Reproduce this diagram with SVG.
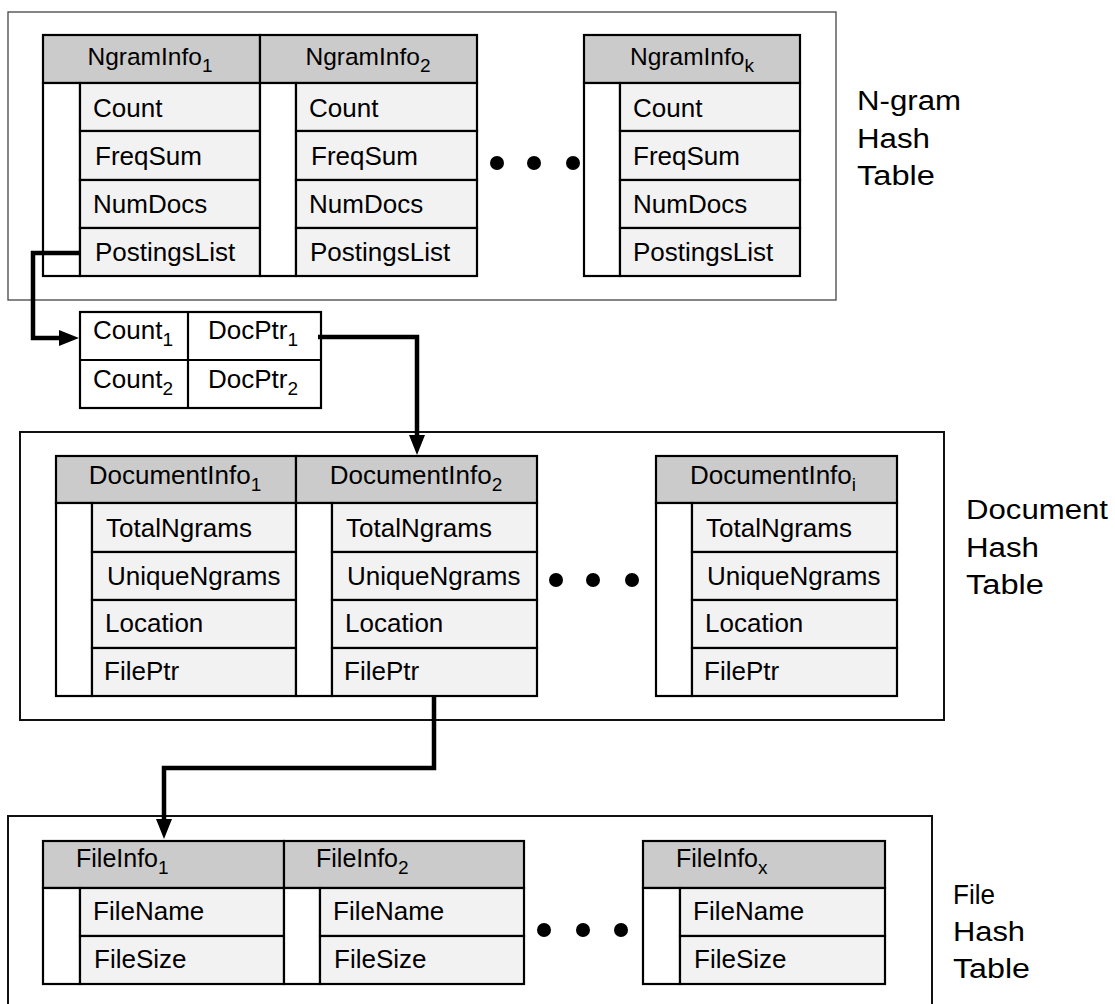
<svg xmlns="http://www.w3.org/2000/svg" width="1115" height="1004" viewBox="0 0 1115 1004">
<style>
  text { font-family: "Liberation Sans", Arial, sans-serif; fill: #000; }
  .cell { font-size: 26px; }
  .hdrN { font-size: 24.5px; }
  .hdrD { font-size: 26px; }
  .hdrF { font-size: 25px; }
  .lbl { font-size: 27px; }
  .sub { font-size: 19px; }
  .outerThin { fill: none; stroke: #444; stroke-width: 1.3; }
  .outer { fill: none; stroke: #111; stroke-width: 2; }
  .hf { fill: #cbcbcb; stroke: #000; stroke-width: 2.2; }
  .cf { fill: #f2f2f2; stroke: #000; stroke-width: 2.2; }
  .wc { fill: #fff; stroke: #000; stroke-width: 2.2; }
  .conn { fill: none; stroke: #000; stroke-width: 4.5; }
  .dot { fill: #000; }
</style>
<defs>
  <marker id="ah" viewBox="0 0 20 16" refX="3" refY="8" markerWidth="20" markerHeight="16" markerUnits="userSpaceOnUse" orient="auto">
    <path d="M0,0 L20,8 L0,16 Z" fill="#000"/>
  </marker>
</defs>

<!-- Outer boxes -->
<rect id="ngramHashTable" class="outerThin" x="8" y="12" width="828" height="288"/>
<rect id="documentHashTable" class="outer" x="20" y="432" width="924" height="288"/>
<rect id="fileHashTable" class="outer" x="8" y="816" width="924" height="200"/>

<!-- N-gram tables -->
<g id="ngram1">
  <rect class="hf" x="43" y="35" width="217" height="48"/>
  <rect class="wc" x="43" y="83" width="37" height="193"/>
  <rect class="cf" x="80" y="83" width="180" height="48"/>
  <rect class="cf" x="80" y="131" width="180" height="49"/>
  <rect class="cf" x="80" y="180" width="180" height="48"/>
  <rect class="cf" x="80" y="228" width="180" height="48"/>
  <text class="hdrN" x="150" y="65" text-anchor="middle">NgramInfo<tspan class="sub" dy="7">1</tspan></text>
  <text class="cell" x="93" y="117">Count</text>
  <text class="cell" x="95" y="165">FreqSum</text>
  <text class="cell" x="93" y="213">NumDocs</text>
  <text class="cell" x="95" y="261">PostingsList</text>
</g>
<g id="ngram2">
  <rect class="hf" x="260" y="35" width="217" height="48"/>
  <rect class="wc" x="260" y="83" width="36" height="193"/>
  <rect class="cf" x="296" y="83" width="181" height="48"/>
  <rect class="cf" x="296" y="131" width="181" height="49"/>
  <rect class="cf" x="296" y="180" width="181" height="48"/>
  <rect class="cf" x="296" y="228" width="181" height="48"/>
  <text class="hdrN" x="368" y="65" text-anchor="middle">NgramInfo<tspan class="sub" dy="7">2</tspan></text>
  <text class="cell" x="309" y="117">Count</text>
  <text class="cell" x="311" y="165">FreqSum</text>
  <text class="cell" x="309" y="213">NumDocs</text>
  <text class="cell" x="310" y="261">PostingsList</text>
</g>
<g id="ngramDots">
  <circle class="dot" cx="497" cy="163" r="7"/>
  <circle class="dot" cx="534" cy="163" r="7"/>
  <circle class="dot" cx="573" cy="163" r="7"/>
</g>
<g id="ngramK">
  <rect class="hf" x="584" y="35" width="216" height="48"/>
  <rect class="wc" x="584" y="83" width="36" height="193"/>
  <rect class="cf" x="620" y="83" width="180" height="48"/>
  <rect class="cf" x="620" y="131" width="180" height="49"/>
  <rect class="cf" x="620" y="180" width="180" height="48"/>
  <rect class="cf" x="620" y="228" width="180" height="48"/>
  <text class="hdrN" x="692" y="65" text-anchor="middle">NgramInfo<tspan class="sub" dy="7">k</tspan></text>
  <text class="cell" x="633" y="117">Count</text>
  <text class="cell" x="633" y="165">FreqSum</text>
  <text class="cell" x="633" y="213">NumDocs</text>
  <text class="cell" x="633" y="261">PostingsList</text>
</g>
<g id="ngramLabel">
  <text class="lbl" x="857" y="110" textLength="104" lengthAdjust="spacingAndGlyphs">N-gram</text>
  <text class="lbl" x="857" y="148" textLength="73" lengthAdjust="spacingAndGlyphs">Hash</text>
  <text class="lbl" x="857" y="185" textLength="78" lengthAdjust="spacingAndGlyphs">Table</text>
</g>

<!-- Postings list -->
<g id="postings">
  <rect class="wc" x="80" y="312" width="241" height="96"/>
  <line x1="80" y1="360" x2="321" y2="360" stroke="#000" stroke-width="2.2"/>
  <line x1="188" y1="312" x2="188" y2="408" stroke="#000" stroke-width="2.2"/>
  <text class="cell" x="93" y="339">Count<tspan class="sub" dy="7">1</tspan></text>
  <text class="cell" x="208" y="339">DocPtr<tspan class="sub" dy="7">1</tspan></text>
  <text class="cell" x="93" y="388">Count<tspan class="sub" dy="7">2</tspan></text>
  <text class="cell" x="208" y="388">DocPtr<tspan class="sub" dy="7">2</tspan></text>
</g>

<!-- Document tables -->
<g id="doc1">
  <rect class="hf" x="56" y="456" width="240" height="47"/>
  <rect class="wc" x="56" y="503" width="36" height="193"/>
  <rect class="cf" x="92" y="503" width="204" height="49"/>
  <rect class="cf" x="92" y="552" width="204" height="48"/>
  <rect class="cf" x="92" y="600" width="204" height="48"/>
  <rect class="cf" x="92" y="648" width="204" height="48"/>
  <text class="hdrD" x="175" y="484" text-anchor="middle">DocumentInfo<tspan class="sub" dy="7">1</tspan></text>
  <text class="cell" x="106" y="537">TotalNgrams</text>
  <text class="cell" x="107" y="585">UniqueNgrams</text>
  <text class="cell" x="105" y="632">Location</text>
  <text class="cell" x="104" y="680">FilePtr</text>
</g>
<g id="doc2">
  <rect class="hf" x="296" y="456" width="241" height="47"/>
  <rect class="wc" x="296" y="503" width="36" height="193"/>
  <rect class="cf" x="332" y="503" width="205" height="49"/>
  <rect class="cf" x="332" y="552" width="205" height="48"/>
  <rect class="cf" x="332" y="600" width="205" height="48"/>
  <rect class="cf" x="332" y="648" width="205" height="48"/>
  <text class="hdrD" x="416" y="484" text-anchor="middle">DocumentInfo<tspan class="sub" dy="7">2</tspan></text>
  <text class="cell" x="346" y="537">TotalNgrams</text>
  <text class="cell" x="347" y="585">UniqueNgrams</text>
  <text class="cell" x="345" y="632">Location</text>
  <text class="cell" x="344" y="680">FilePtr</text>
</g>
<g id="docDots">
  <circle class="dot" cx="556" cy="580" r="7"/>
  <circle class="dot" cx="593" cy="580" r="7"/>
  <circle class="dot" cx="632" cy="580" r="7"/>
</g>
<g id="docI">
  <rect class="hf" x="656" y="456" width="241" height="47"/>
  <rect class="wc" x="656" y="503" width="36" height="193"/>
  <rect class="cf" x="692" y="503" width="205" height="49"/>
  <rect class="cf" x="692" y="552" width="205" height="48"/>
  <rect class="cf" x="692" y="600" width="205" height="48"/>
  <rect class="cf" x="692" y="648" width="205" height="48"/>
  <text class="hdrD" x="773" y="484" text-anchor="middle">DocumentInfo<tspan class="sub" dy="7">i</tspan></text>
  <text class="cell" x="706" y="537">TotalNgrams</text>
  <text class="cell" x="707" y="585">UniqueNgrams</text>
  <text class="cell" x="705" y="632">Location</text>
  <text class="cell" x="704" y="680">FilePtr</text>
</g>
<g id="docLabel">
  <text class="lbl" x="966" y="519" textLength="142" lengthAdjust="spacingAndGlyphs">Document</text>
  <text class="lbl" x="966" y="557" textLength="73" lengthAdjust="spacingAndGlyphs">Hash</text>
  <text class="lbl" x="966" y="594" textLength="78" lengthAdjust="spacingAndGlyphs">Table</text>
</g>

<!-- File tables -->
<g id="file1">
  <rect class="hf" x="43" y="841" width="241" height="47"/>
  <rect class="wc" x="43" y="888" width="37" height="96"/>
  <rect class="cf" x="80" y="888" width="204" height="48"/>
  <rect class="cf" x="80" y="936" width="204" height="48"/>
  <text class="hdrF" x="76" y="867">FileInfo<tspan class="sub" dy="7">1</tspan></text>
  <text class="cell" x="93" y="920">FileName</text>
  <text class="cell" x="94" y="968">FileSize</text>
</g>
<g id="file2">
  <rect class="hf" x="284" y="841" width="240" height="47"/>
  <rect class="wc" x="284" y="888" width="36" height="96"/>
  <rect class="cf" x="320" y="888" width="204" height="48"/>
  <rect class="cf" x="320" y="936" width="204" height="48"/>
  <text class="hdrF" x="316" y="867">FileInfo<tspan class="sub" dy="7">2</tspan></text>
  <text class="cell" x="333" y="920">FileName</text>
  <text class="cell" x="334" y="968">FileSize</text>
</g>
<g id="fileDots">
  <circle class="dot" cx="544" cy="930" r="7"/>
  <circle class="dot" cx="583" cy="930" r="7"/>
  <circle class="dot" cx="621" cy="930" r="7"/>
</g>
<g id="fileX">
  <rect class="hf" x="643" y="841" width="242" height="47"/>
  <rect class="wc" x="643" y="888" width="37" height="96"/>
  <rect class="cf" x="680" y="888" width="205" height="48"/>
  <rect class="cf" x="680" y="936" width="205" height="48"/>
  <text class="hdrF" x="676" y="867">FileInfo<tspan class="sub" dy="7">x</tspan></text>
  <text class="cell" x="693" y="920">FileName</text>
  <text class="cell" x="694" y="968">FileSize</text>
</g>
<g id="fileLabel">
  <text class="lbl" x="953" y="904" textLength="42" lengthAdjust="spacingAndGlyphs">File</text>
  <text class="lbl" x="953" y="941" textLength="72" lengthAdjust="spacingAndGlyphs">Hash</text>
  <text class="lbl" x="953" y="978" textLength="77" lengthAdjust="spacingAndGlyphs">Table</text>
</g>

<!-- Connectors -->
<g id="connectors">
  <path class="conn" d="M80,253 H33 V338 H62" marker-end="url(#ah)"/>
  <path class="conn" d="M318,337 H417 V438" marker-end="url(#ah)"/>
  <path class="conn" d="M434,695 V768 H164 V822" marker-end="url(#ah)"/>
</g>
</svg>
